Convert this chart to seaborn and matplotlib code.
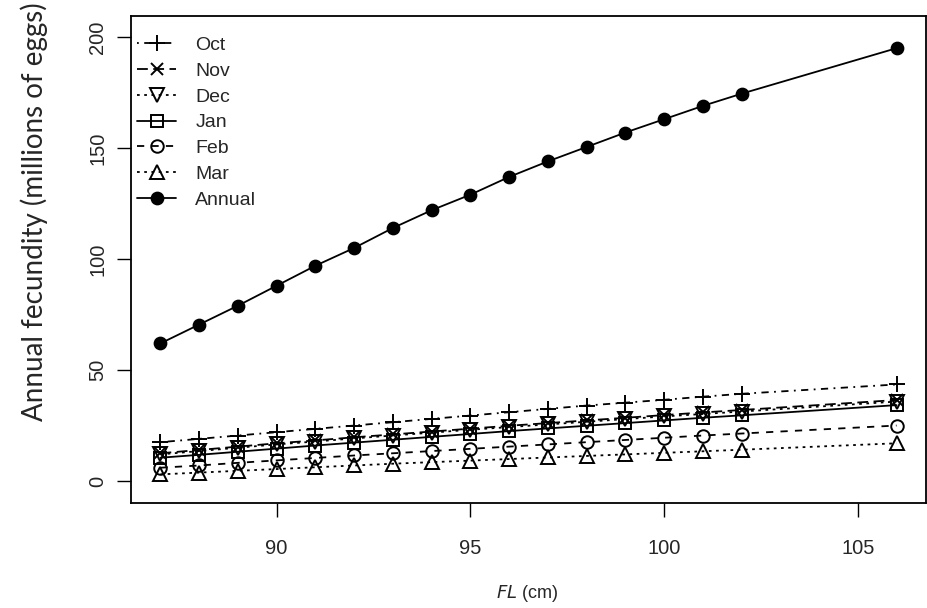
import seaborn as sns
import matplotlib.pyplot as plt
import pandas as pd

# Longitud furcal (cm)
fl = [87, 88, 89, 90, 91, 92, 93, 94, 95, 96, 97, 98, 99, 100, 101, 102, 106]

# Fecundidad (millones de huevos) por mes
oct_ = [17.5, 19, 20.5, 22, 23.5, 25, 26.5, 28, 29.5, 31, 32.5, 34, 35.3, 36.6, 38, 39.3, 43.5]
nov = [12.5, 14, 15.5, 17, 18.3, 19.7, 21, 22.3, 23.6, 24.9, 26.1, 27.3, 28.5, 29.7, 30.9, 32, 36.5]
dic = [12, 13.5, 15, 16.5, 17.8, 19.2, 20.5, 21.8, 23.1, 24.3, 25.5, 26.7, 27.9, 29.1, 30.2, 31.3, 35.8]
ene = [10.5, 11.8, 13.2, 14.6, 16, 17.3, 18.6, 19.9, 21.2, 22.5, 23.7, 24.9, 26.1, 27.3, 28.5, 29.6, 34.2]
feb = [6, 7, 8.2, 9.3, 10.4, 11.5, 12.5, 13.5, 14.5, 15.5, 16.5, 17.5, 18.5, 19.5, 20.5, 21.4, 25]
mar = [3, 3.8, 4.6, 5.4, 6.2, 7, 7.8, 8.5, 9.2, 9.9, 10.6, 11.3, 12, 12.7, 13.4, 14.1, 17]
anual = [62, 70.5, 79, 88, 97, 105, 114, 122, 129, 137, 144, 150.5, 157, 163, 169, 174.5, 195]

series = ["Oct", "Nov", "Dec", "Jan", "Feb", "Mar", "Annual"]
valores = [oct_, nov, dic, ene, feb, mar, anual]

# estilo tipo R base: (marcador, linea, tamaño)
estilos = {
    "Oct": ("+", (0, (1, 3, 4, 3)), 12),
    "Nov": ("x", (0, (6, 3)), 8.5),
    "Dec": ("v", (0, (1.5, 2.5)), 9.5),
    "Jan": ("s", "-", 9),
    "Feb": ("o", (0, (4, 4)), 9),
    "Mar": ("^", (0, (1.5, 2.5)), 9.5),
    "Annual": ("o", "-", 8.5),
}

df = pd.concat([pd.DataFrame({"FL": fl, "Fec": v, "Serie": s}) for s, v in zip(series, valores)])

sns.set_theme(style="white")
plt.rcParams['font.family'] = ['Liberation Sans', 'DejaVu Sans']

fig = plt.figure(figsize=(9.28, 6.08), dpi=100)
ax = fig.add_axes([131 / 928, 1 - 503 / 608, 795 / 928, 487 / 608])

for s in series:
    marcador, linea, ms = estilos[s]
    lleno = s == "Annual"
    sns.lineplot(
        data=df[df["Serie"] == s], x="FL", y="Fec", ax=ax,
        color="black", linewidth=1.3, linestyle=linea,
        marker=marcador, markersize=ms, markeredgewidth=1.4,
        markerfacecolor="black" if lleno else "none",
        markeredgecolor="black", label=s,
    )

ax.set_xlim(86.24, 106.76)
ax.set_ylim(-9.9, 209.5)
ax.set_xticks([90, 95, 100, 105])
ax.set_yticks([0, 50, 100, 150, 200])
ax.tick_params(axis="both", direction="out", length=10, width=1, color="black",
               labelsize=14.5, bottom=True, left=True)
ax.tick_params(axis="x", pad=16)
ax.tick_params(axis="y", pad=7)
plt.setp(ax.get_yticklabels(), rotation=90, va="center")
for sp in ax.spines.values():
    sp.set_color("black")
    sp.set_linewidth(1.3)

ax.set_xlabel("")
ax.set_ylabel("")
fig.text(0.568, 1 - 593 / 608, r"$\mathit{FL}$" + " (cm)", ha="center", va="center", fontsize=13)
fig.text(34 / 928, 1 - 212 / 608, "Annual fecundity (millions of eggs)", rotation=90,
         ha="center", va="center", fontsize=20, family=["Lato", "DejaVu Sans"])

ax.legend(loc="upper left", bbox_to_anchor=(-0.007, 0.982), frameon=False, fontsize=14,
          handlelength=2.0, handletextpad=1.0, labelspacing=0.42, borderpad=0.6,
          borderaxespad=0.0)

fig.savefig("out.png", dpi=100)
